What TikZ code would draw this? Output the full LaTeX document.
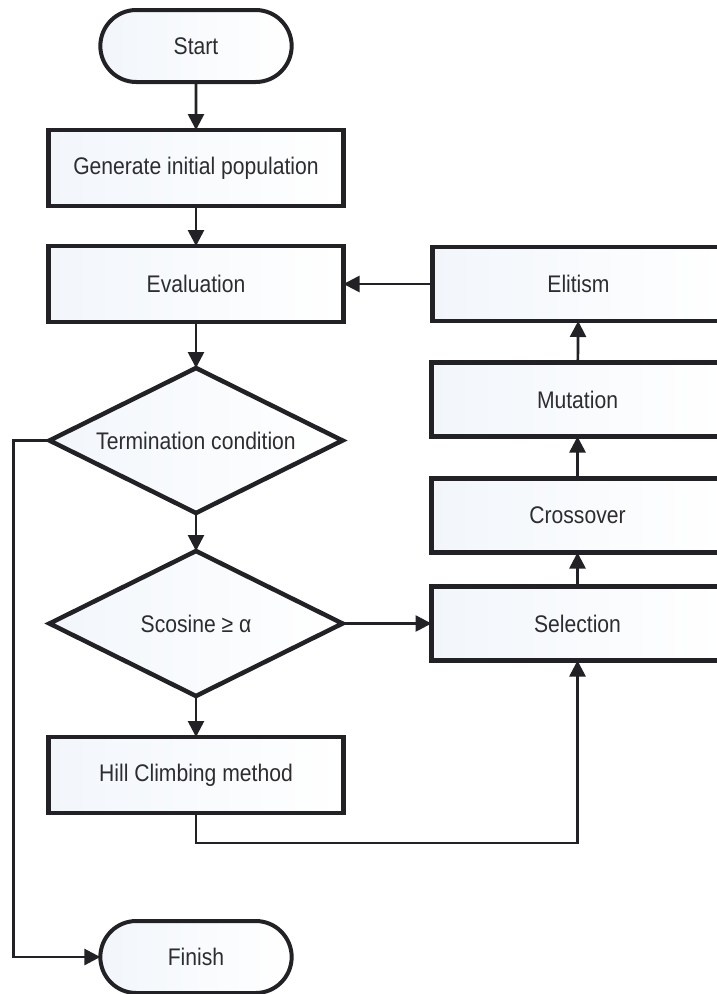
\documentclass[tikz,border=0pt]{standalone}
\usepackage{fontspec}
\setmainfont[FakeStretch=0.88]{Liberation Sans}
\usetikzlibrary{positioning}
\usetikzlibrary{shapes,arrows.meta,calc}
\definecolor{linegray}{RGB}{34,34,38}
\definecolor{textgray}{RGB}{45,45,48}
\definecolor{boxtint}{RGB}{242,246,251}

\begin{document}
\begin{tikzpicture}[node distance=40pt, auto, x=1pt, y=1pt,
    every node/.style={font=\fontsize{24}{28}\selectfont, text=textgray, outer sep=0pt},
    box/.style={draw=linegray, line width=4.5pt, rectangle, left color=boxtint, right color=white,
        minimum width=295pt, minimum height=76pt},
    sidebox/.style={box, minimum width=292pt, minimum height=74pt},
    terminal/.style={draw=linegray, line width=4pt, rounded rectangle, left color=boxtint, right color=white,
        minimum width=198pt, minimum height=72pt},
    decision/.style={draw=linegray, line width=4.5pt, diamond, aspect=2, inner sep=0pt,
        left color=boxtint, right color=white, minimum width=293pt, minimum height=145pt},
    line/.style={draw=linegray, line width=2.7pt},
    arrow/.style={line, -{Triangle[length=16pt,width=16pt]}}]
    \useasboundingbox [fill=white] (0,0) rectangle (716,-994);
    % Nodes
    \node [terminal] (start) at (196,-46) {Start};
    \node [box, below=48pt of start] (init) {Generate initial population};
    \node [box, below=40pt of init] (eval) {Evaluation};
    \node [decision, below=46pt of eval] (term) {Termination condition};
    \node [decision, below=38pt of term] (cosine) {Scosine ≥ α};
    \node [box, below=41pt of cosine] (hill) {Hill Climbing method};
    \node [terminal, below=108pt of hill] (finish) {Finish};

    \node [sidebox, right=89pt of eval] (elitism) {Elitism};
    \node [sidebox, right=89pt of cosine] (select) {Selection};
    \node [sidebox, above=34pt of select] (cross) {Crossover};
    \node [sidebox, above=42pt of cross] (mutate) {Mutation};

    \coordinate [below=30pt of hill.south] (hillturn);
    \coordinate [left=36pt of term.west] (exitturn);
    % Arrows
    \draw [arrow] (start) -- (init);
    \draw [arrow] (init) -- (eval);
    \draw [arrow] (eval) -- (term);
    \draw [arrow] (term) -- (cosine);
    \draw [arrow] (cosine) -- (hill);
    \draw [arrow] (cosine) -- (select);
    \draw [arrow] (select) -- (cross);
    \draw [arrow] (cross) -- (mutate);
    \draw [arrow] (mutate) -- (elitism);
    \draw [arrow] (elitism) -- (eval);
    \draw [arrow] (hill) -- (hillturn) -| (select);
    \draw [arrow] (term) -- (exitturn) |- (finish);
\end{tikzpicture}
\end{document}
